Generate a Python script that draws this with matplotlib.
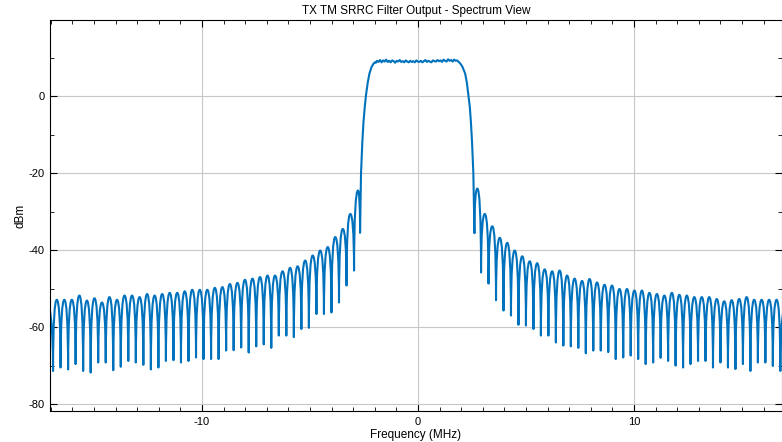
import numpy as np
import matplotlib
matplotlib.use('Agg')
import matplotlib.pyplot as plt
from matplotlib.path import Path
from matplotlib.patches import PathPatch
from matplotlib.ticker import MultipleLocator

plt.rcParams['font.family'] = ['Liberation Sans Narrow', 'Liberation Sans', 'DejaVu Sans']
plt.rcParams['axes.unicode_minus'] = False

# sidelobe nulls / peaks (dBm)
# left side, outer -> inner
left_null_db = [-71.4, -70.5, -71.0, -69.6, -71.4, -71.8, -69.2, -69.2, -71.2, -70.3,
                -68.8, -69.2, -69.8, -71.0, -70.5, -68.8, -68.6, -69.2, -68.8, -67.9,
                -68.3, -68.3, -68.3, -66.1, -66.0, -65.3, -66.6, -65.0, -64.5, -65.4,
                -62.2, -62.2, -62.6, -60.5, -60.2, -56.6, -56.6, -56.2, -53.6, -49.2,
                -45.3]
left_peak_db = [-52.9, -52.9, -52.9, -51.8, -53.1, -52.5, -53.6, -52.2, -52.9, -51.8,
                -51.8, -52.2, -51.4, -51.8, -51.4, -51.1, -51.1, -50.7, -50.3, -50.3,
                -50.3, -49.8, -49.6, -48.8, -48.5, -47.7, -47.4, -47.0, -46.6, -46.6,
                -45.5, -44.6, -44.2, -42.7, -41.4, -40.1, -39.2, -36.6, -34.5, -30.6]
left_edge_peak = -53.0
left_inner_peak = -24.5
left_inner_null = -35.5

# right side, inner -> outer
right_null_db = [-45.8, -48.7, -53.0, -55.7, -57.0, -59.4, -59.6, -60.5, -62.2, -62.2,
                 -64.0, -64.8, -65.0, -65.4, -66.8, -66.1, -66.1, -66.5, -68.3, -67.9,
                 -67.4, -68.3, -69.6, -69.2, -68.0, -68.8, -70.0, -70.5, -69.6, -68.8,
                 -68.8, -70.5, -69.2, -70.5, -70.9, -69.6, -71.4, -69.2, -69.2, -70.1,
                 -71.4]
right_peak_db = [-30.6, -33.8, -36.8, -38.1, -40.1, -41.6, -42.9, -43.4, -45.0, -45.5,
                 -45.3, -46.6, -47.4, -48.0, -47.5, -48.4, -49.0, -49.2, -50.1, -50.1,
                 -50.5, -50.5, -51.1, -51.4, -51.8, -51.1, -51.6, -51.8, -52.2, -52.2,
                 -52.2, -52.7, -53.3, -53.0, -52.7, -52.2, -52.9, -52.9, -52.9, -52.9]
right_edge_peak = -53.0
right_inner_peak = -24.0
right_inner_null = -35.6

# null frequencies (MHz): regular bins
left_null_f = -2.963 - 0.3484 * np.arange(40, -1, -1)
right_null_f = 2.917 + 0.3464 * np.arange(41)
left_inner_f = [-2.78, -2.685]
right_inner_f = [2.61, 2.745]

# passband (main lobe) samples
pb_f = [-2.64, -2.58, -2.53, -2.47, -2.41, -2.33, -2.25, -2.16, -2.07, -2.00,
        -1.95, -1.90, -1.83, -1.76, -1.69, -1.62, -1.55, -1.48, -1.41, -1.34,
        -1.27, -1.20, -1.13, -1.06, -0.99, -0.92, -0.85, -0.78, -0.71, -0.64,
        -0.57, -0.50, -0.43, -0.36, -0.29, -0.22, -0.15, -0.08, -0.01, 0.06,
        0.13, 0.20, 0.27, 0.34, 0.41, 0.48, 0.55, 0.62, 0.69, 0.76,
        0.83, 0.90, 0.97, 1.04, 1.11, 1.18, 1.25, 1.32, 1.39, 1.46,
        1.53, 1.60, 1.67, 1.74, 1.81, 1.88, 1.94, 2.04,
        2.10, 2.18, 2.26, 2.33, 2.40, 2.45, 2.50, 2.56]
pb_db = [-20.0, -12.0, -7.0, -3.0, 0.3, 3.5, 5.9, 7.5, 8.4, 8.8,
         8.7, 9.2, 8.9, 9.4, 8.8, 9.3, 9.0, 9.5, 8.9, 9.2,
         8.8, 9.3, 9.1, 8.7, 9.2, 9.0, 9.4, 8.9, 9.1, 8.8,
         9.3, 9.0, 8.8, 9.2, 8.9, 9.1, 8.8, 9.3, 9.0, 8.9,
         9.2, 8.8, 9.1, 9.4, 8.9, 9.2, 9.0, 8.8, 9.3, 9.1,
         9.0, 9.4, 9.1, 9.3, 8.9, 9.5, 9.2, 9.0, 9.6, 9.2,
         9.4, 9.0, 9.5, 9.2, 9.3, 8.9, 8.6, 7.8,
         7.0, 5.9, 3.5, 0.3, -3.0, -7.0, -12.0, -20.0]


def arch(verts, codes, xa, ya, xp, yp, xb, yb):
    # rounded lobe from null a over peak p down to null b
    w1 = xp - xa
    w2 = xb - xp
    verts += [(xa + 0.02 * w1, ya + 0.7 * (yp - ya)), (xp - 0.55 * w1, yp), (xp, yp),
              (xp + 0.55 * w2, yp), (xb - 0.02 * w2, yb + 0.7 * (yp - yb)), (xb, yb)]
    codes += [Path.CURVE4] * 6


verts = []
codes = []

# left edge: partial lobe coming in from outside the view
step_l = 0.3484
verts.append((left_null_f[0] - step_l, left_edge_peak + 0.5))
codes.append(Path.MOVETO)
verts += [(left_null_f[0] - 0.45 * step_l, left_edge_peak),
          (left_null_f[0] - 0.01 * step_l, left_null_db[0] + 0.7 * (left_edge_peak - left_null_db[0])),
          (left_null_f[0], left_null_db[0])]
codes += [Path.CURVE4] * 3
for i in range(40):
    xa, xb = left_null_f[i], left_null_f[i + 1]
    arch(verts, codes, xa, left_null_db[i], (xa + xb) / 2, left_peak_db[i],
         xb, left_null_db[i + 1])
arch(verts, codes, left_null_f[-1], left_null_db[-1], left_inner_f[0], left_inner_peak,
     left_inner_f[1], left_inner_null)

for f, d in zip(pb_f, pb_db):
    verts.append((f, d))
    codes.append(Path.LINETO)
verts.append((right_inner_f[0], right_inner_null))
codes.append(Path.LINETO)

arch(verts, codes, right_inner_f[0], right_inner_null, right_inner_f[1], right_inner_peak,
     right_null_f[0], right_null_db[0])
for i in range(40):
    xa, xb = right_null_f[i], right_null_f[i + 1]
    arch(verts, codes, xa, right_null_db[i], (xa + xb) / 2, right_peak_db[i],
         xb, right_null_db[i + 1])
step_r = 0.3464
verts += [(right_null_f[-1] + 0.01 * step_r, right_null_db[-1] + 0.7 * (right_edge_peak - right_null_db[-1])),
          (right_null_f[-1] + 0.45 * step_r, right_edge_peak),
          (right_null_f[-1] + step_r, right_edge_peak + 0.5)]
codes += [Path.CURVE4] * 3

fig = plt.figure(figsize=(7.82, 4.42), dpi=100)
ax = fig.add_axes([50 / 782, 1 - 411 / 442, 732 / 782, 391 / 442])

ax.add_patch(PathPatch(Path(verts, codes), fill=False, edgecolor='#0072BD', lw=1.5,
                       joinstyle='round', capstyle='round'))

ax.set_xlim(-17.04, 16.85)
ax.set_ylim(-81.8, 19.8)
ax.xaxis.set_major_locator(MultipleLocator(10))
ax.xaxis.set_minor_locator(MultipleLocator(1))
ax.yaxis.set_major_locator(MultipleLocator(20))
ax.yaxis.set_minor_locator(MultipleLocator(10))
ax.grid(True, which='major', color='#c8c8c8', lw=0.8)
ax.set_axisbelow(True)
ax.tick_params(which='both', direction='in', top=True, right=True, labelsize=8)
ax.tick_params(which='major', length=5, width=0.8, pad=4)
ax.tick_params(which='minor', length=3, width=0.6)
for s in ax.spines.values():
    s.set_linewidth(0.8)

ax.set_title('TX TM SRRC Filter Output - Spectrum View', fontsize=8.5, pad=4)
ax.set_xlabel('Frequency (MHz)', fontsize=8.5, labelpad=2)
ax.set_ylabel('dBm', fontsize=8.5, labelpad=1)

fig.savefig('out.png', dpi=100)
